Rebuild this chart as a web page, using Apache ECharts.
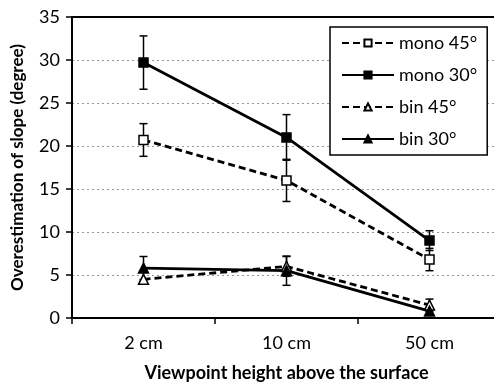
<!DOCTYPE html>
<html>
<head>
<meta charset="utf-8">
<script src="https://cdn.jsdelivr.net/npm/echarts@6/dist/echarts.min.js"></script>
<style>
  html, body { margin: 0; padding: 0; background: #fff; }
  #chart { width: 494px; height: 385px; }
</style>
</head>
<body>
<div id="chart"></div>
<script>
// categories and values
var categories = ['2 cm', '10 cm', '50 cm'];
var mono45 = [20.7, 16.0, 6.8];
var mono45Err = [1.9, 2.45, 1.3];
var mono30 = [29.7, 21.0, 9.0];
var mono30Err = [3.1, 2.65, 1.15];
var bin45 = [4.5, 6.0, 1.5];
var bin45Err = [0, 1.15, 0.7];
var bin30 = [5.8, 5.5, 0.8];
var bin30Err = [1.35, 1.7, 0];

var font = 'Lato, "Open Sans", sans-serif';

function errData(vals, errs) {
  var out = [];
  for (var i = 0; i < vals.length; i++) {
    if (errs[i] > 0) out.push([i, vals[i] - errs[i], vals[i] + errs[i]]);
  }
  return out;
}

function errSeries(vals, errs) {
  return {
    type: 'custom',
    silent: true,
    z: 1,
    data: errData(vals, errs),
    renderItem: function (params, api) {
      var lo = api.coord([api.value(0), api.value(1)]);
      var hi = api.coord([api.value(0), api.value(2)]);
      var cap = 4;
      var st = { stroke: '#000', lineWidth: 1.5 };
      return {
        type: 'group',
        children: [
          { type: 'line', shape: { x1: lo[0], y1: lo[1], x2: hi[0], y2: hi[1] }, style: st },
          { type: 'line', shape: { x1: lo[0] - cap, y1: lo[1], x2: lo[0] + cap, y2: lo[1] }, style: st },
          { type: 'line', shape: { x1: hi[0] - cap, y1: hi[1], x2: hi[0] + cap, y2: hi[1] }, style: st }
        ]
      };
    }
  };
}

function lineSeries(name, vals, symbol, filled, dashed) {
  return {
    name: name,
    type: 'line',
    data: vals,
    z: 3,
    symbol: symbol,
    symbolSize: symbol === 'rect' ? 9 : 10,
    lineStyle: { color: '#000', width: 2.8, type: dashed ? [7, 4] : 'solid' },
    itemStyle: { color: filled ? '#000' : '#fff', borderColor: '#000', borderWidth: 1.5 },
    emphasis: { disabled: true }
  };
}

var chart = echarts.init(document.getElementById('chart'));
chart.setOption({
  animation: false,
  textStyle: { fontFamily: font },
  // plot runs a little past the right edge of the picture
  grid: { left: 72, top: 17, width: 429, height: 301, outerBoundsMode: 'none' },
  legend: {
    orient: 'vertical',
    left: 330,
    top: 27,
    padding: [7, 10, 7, 11],
    borderColor: '#000',
    borderWidth: 1.5,
    backgroundColor: '#fff',
    itemWidth: 52,
    itemHeight: 9,
    itemGap: 14,
    textStyle: { fontSize: 18, color: '#000', fontFamily: font },
    data: ['mono 45°', 'mono 30°', 'bin 45°', 'bin 30°']
  },
  xAxis: [{
    type: 'category',
    data: categories,
    boundaryGap: true,
    axisLine: { lineStyle: { color: '#000', width: 2 } },
    axisTick: { show: true, length: 6, lineStyle: { color: '#000', width: 1.5 } },
    axisLabel: { fontSize: 18, color: '#000', margin: 16, fontFamily: font },
    name: 'Viewpoint height above the surface',
    nameLocation: 'middle',
    nameGap: 46,
    nameTextStyle: { fontSize: 18, fontWeight: 'bold', color: '#000', fontFamily: font }
  }, {
    // top frame line
    type: 'category',
    position: 'top',
    data: categories,
    axisLine: { show: true, onZero: false, lineStyle: { color: '#000', width: 2 } },
    axisTick: { show: false },
    axisLabel: { show: false }
  }],
  yAxis: {
    type: 'value',
    min: 0,
    max: 35,
    interval: 5,
    axisLine: { show: true, lineStyle: { color: '#000', width: 2 } },
    axisTick: { show: true, length: 6, lineStyle: { color: '#000', width: 1.5 } },
    axisLabel: { fontSize: 18, color: '#000', margin: 12, fontFamily: font },
    splitLine: { show: true, lineStyle: { color: '#999', type: [2, 3], width: 1.2 } },
    name: 'Overestimation of slope (degree)',
    nameLocation: 'middle',
    nameGap: 46,
    nameTextStyle: { fontSize: 17, fontWeight: 'bold', color: '#000', fontFamily: font }
  },
  series: [
    errSeries(mono45, mono45Err),
    errSeries(mono30, mono30Err),
    errSeries(bin45, bin45Err),
    errSeries(bin30, bin30Err),
    lineSeries('mono 45°', mono45, 'rect', false, true),
    lineSeries('mono 30°', mono30, 'rect', true, false),
    lineSeries('bin 45°', bin45, 'triangle', false, true),
    lineSeries('bin 30°', bin30, 'triangle', true, false)
  ]
});
</script>
</body>
</html>
